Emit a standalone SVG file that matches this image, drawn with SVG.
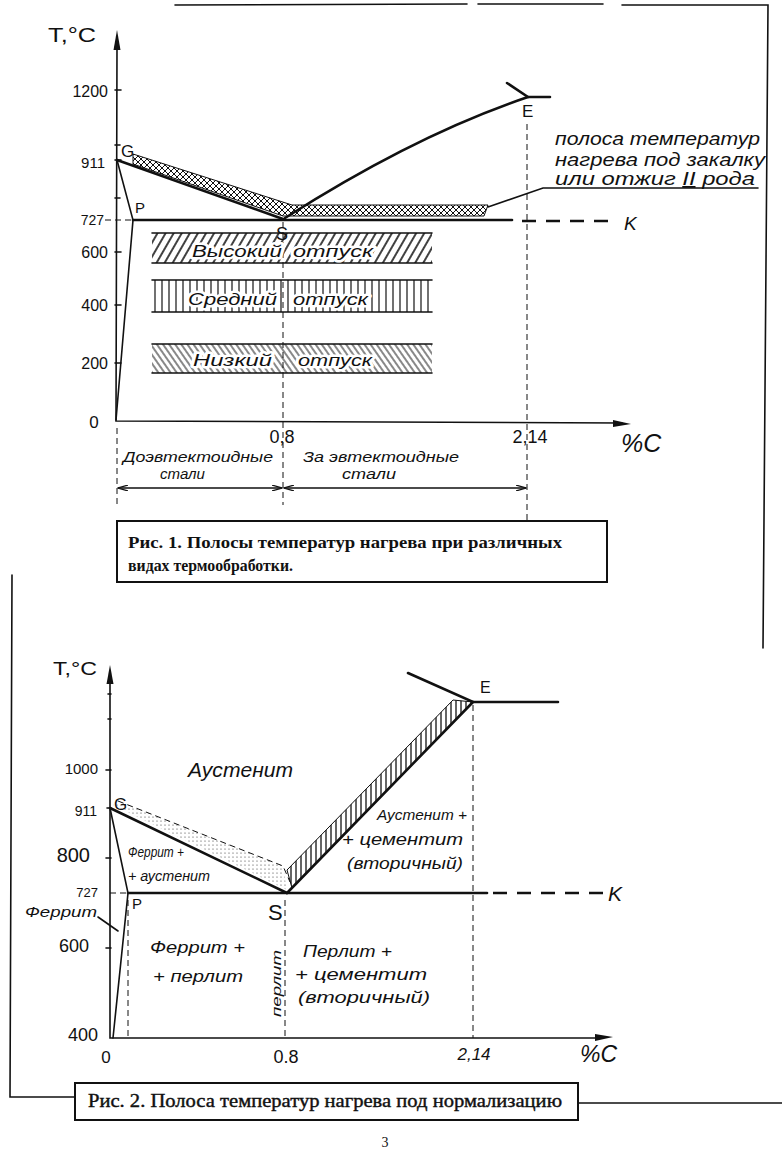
<svg xmlns="http://www.w3.org/2000/svg" width="782" height="1155" viewBox="0 0 782 1155">
<style>
.ln{stroke:#111;fill:none;stroke-width:1.6;stroke-linecap:round}
.th{stroke:#111;fill:none;stroke-width:2.6;stroke-linecap:round}
.ds{stroke:#111;fill:none;stroke-width:1;stroke-dasharray:6,4}
.dk{stroke:#111;fill:none;stroke-width:2.6;stroke-dasharray:14,10}
.hw{font-family:"Liberation Sans","DejaVu Sans",sans-serif;font-style:italic;fill:#111}
.nm{font-family:"Liberation Sans","DejaVu Sans",sans-serif;fill:#111}
.halo{paint-order:stroke;stroke:#fff;stroke-width:5;stroke-linejoin:round}
.cap{font-family:"Liberation Serif","Times New Roman",serif;fill:#111}
</style>
<defs>
<pattern id="xh" width="6" height="6" patternUnits="userSpaceOnUse"><path d="M0,0L6,6M6,0L0,6" stroke="#111" stroke-width="1"/></pattern>
<pattern id="fwd" width="7" height="10" patternUnits="userSpaceOnUse" patternTransform="rotate(30)"><line x1="1" y1="0" x2="1" y2="10" stroke="#111" stroke-width="1.6"/></pattern>
<pattern id="vert" width="7" height="10" patternUnits="userSpaceOnUse"><line x1="1" y1="0" x2="1" y2="10" stroke="#111" stroke-width="1.2"/></pattern>
<pattern id="back" width="5" height="10" patternUnits="userSpaceOnUse" patternTransform="rotate(-35)"><line x1="1" y1="0" x2="1" y2="10" stroke="#111" stroke-width="1"/></pattern>
<pattern id="dots" width="4" height="4" patternUnits="userSpaceOnUse"><circle cx="1" cy="1" r="0.6" fill="#333"/></pattern>
<pattern id="vstrk" width="5" height="10" patternUnits="userSpaceOnUse"><line x1="1" y1="0" x2="1" y2="10" stroke="#111" stroke-width="1.3"/></pattern>
<marker id="da" viewBox="0 0 10 6" refX="10" refY="3" markerWidth="10" markerHeight="6" markerUnits="userSpaceOnUse" orient="auto-start-reverse"><path d="M0,0L10,3L0,6" fill="none" stroke="#111" stroke-width="1.2"/></marker>
</defs>
<rect width="782" height="1155" fill="#fff"/>

<!-- frame lines -->
<g id="frame" class="ln">
<path d="M175,5L467,4M478,4L603,4M622,5L768,5L763,648"/>
<path d="M12,575L10,1097L75,1097M578,1103L782,1103"/>
</g>

<!-- ===== Figure 1 ===== -->
<g id="fig1">
<g id="fig1-bands">
<polygon points="133,154 292,205 488,205 484,216 290,216 283,216 133,164" fill="url(#xh)" stroke="#111" stroke-width="1"/>
<rect x="152" y="233" width="280" height="30" fill="url(#fwd)"/>
<path class="ln" d="M152,233H432M152,263H432"/>
<rect x="152" y="280" width="280" height="32" fill="url(#vert)"/>
<path class="ln" d="M152,280H432M152,312H432"/>
<rect x="152" y="344" width="280" height="29" fill="url(#back)"/>
<path class="ln" d="M152,344H432M152,373H432"/>
</g>
<g id="fig1-axes">
<path class="ln" d="M117,46L116,421L622,423"/>
<polygon points="117,30 113.5,50 120.5,50" fill="#111"/>
<polygon points="631,424 613,420 613,427" fill="#111"/>
<path class="ln" d="M115,90H121M115,145H120M115,160H121M115,198H120M115,252H121M115,305H121M115,363H121"/>
<text class="nm" x="48" y="42" font-size="21" textLength="48" lengthAdjust="spacingAndGlyphs">T,°C</text>
<text class="nm" x="108" y="97" font-size="16" text-anchor="end">1200</text>
<text class="nm" x="105" y="168" font-size="15" text-anchor="end">911</text>
<text class="nm" x="104" y="225" font-size="14" text-anchor="end">727</text>
<text class="nm" x="108" y="258" font-size="16" text-anchor="end">600</text>
<text class="nm" x="108" y="311" font-size="16" text-anchor="end">400</text>
<text class="nm" x="108" y="369" font-size="16" text-anchor="end">200</text>
<text class="nm" x="94" y="428" font-size="17" text-anchor="middle">0</text>
<text class="nm" x="282" y="443" font-size="18" text-anchor="middle">0,8</text>
<text class="nm" x="530" y="443" font-size="18" text-anchor="middle">2,14</text>
<text class="hw" x="621" y="452" font-size="25">%C</text>
</g>
<g id="fig1-lines">
<path class="ds" d="M105,220H133"/>
<path class="th" d="M117,160L283,219"/>
<path class="ln" d="M117,160L133,220L116,420"/>
<path class="th" d="M133,220H512"/>
<path class="dk" d="M522,221H612"/>
<path class="th" d="M285,218Q415,135 528,97"/>
<path class="th" d="M507,83L528,97H550"/>
<path class="ds" d="M527,124V520"/>
<path class="ds" d="M283,222V505" stroke-dasharray="12,4,2,4"/>
<path class="ln" d="M488,207L543,188H758"/>
<path class="ds" d="M117,428V505"/>
<path class="ln" d="M118,488H282" marker-start="url(#da)" marker-end="url(#da)"/>
<path class="ln" d="M284,488H526" marker-start="url(#da)" marker-end="url(#da)"/>
</g>
<g id="fig1-labels">
<text class="nm" x="121" y="157" font-size="17">G</text>
<text class="nm" x="135" y="213" font-size="15">P</text>
<text class="nm" x="276" y="240" font-size="18">S</text>
<text class="nm" x="522" y="117" font-size="17">E</text>
<text class="hw" x="624" y="230" font-size="19">K</text>
<text class="hw" x="555" y="145" font-size="18" textLength="205" lengthAdjust="spacingAndGlyphs">полоса температур</text>
<text class="hw" x="555" y="166" font-size="18" textLength="210" lengthAdjust="spacingAndGlyphs">нагрева под закалку</text>
<text class="hw" x="555" y="185" font-size="18" textLength="200" lengthAdjust="spacingAndGlyphs">или отжиг <tspan text-decoration="underline">II</tspan> рода</text>
<text class="hw halo" x="192" y="257" font-size="17" textLength="90" lengthAdjust="spacingAndGlyphs">Высокий</text>
<text class="hw halo" x="293" y="257" font-size="17" textLength="80" lengthAdjust="spacingAndGlyphs">отпуск</text>
<text class="hw halo" x="188" y="305" font-size="17" textLength="89" lengthAdjust="spacingAndGlyphs">Средний</text>
<text class="hw halo" x="293" y="305" font-size="17" textLength="75" lengthAdjust="spacingAndGlyphs">отпуск</text>
<text class="hw halo" x="193" y="366" font-size="17" textLength="79" lengthAdjust="spacingAndGlyphs">Низкий</text>
<text class="hw halo" x="298" y="366" font-size="17" textLength="74" lengthAdjust="spacingAndGlyphs">отпуск</text>
<text class="hw" x="123" y="462" font-size="15" textLength="150" lengthAdjust="spacingAndGlyphs">Доэвтектоидные</text>
<text class="hw" x="160" y="479" font-size="15" textLength="45" lengthAdjust="spacingAndGlyphs">стали</text>
<text class="hw" x="303" y="462" font-size="15" textLength="156" lengthAdjust="spacingAndGlyphs">За эвтектоидные</text>
<text class="hw" x="342" y="479" font-size="15" textLength="54" lengthAdjust="spacingAndGlyphs">стали</text>
</g>
<g id="caption1">
<rect x="117" y="521" width="490" height="61" fill="#fff" stroke="#111" stroke-width="2"/>
<text class="cap" x="128" y="548" font-size="17" font-weight="bold" textLength="434" lengthAdjust="spacingAndGlyphs">Рис. 1. Полосы температур нагрева при различных</text>
<text class="cap" x="128" y="571" font-size="17" font-weight="bold" textLength="165" lengthAdjust="spacingAndGlyphs">видах термообработки.</text>
</g>
</g>

<!-- ===== Figure 2 ===== -->
<g id="fig2">
<g id="fig2-bands">
<polygon points="113,805 118,801 283,866 287,890" fill="url(#dots)"/>
<path class="ds" d="M118,801L283,866L290,882" stroke-dasharray="5,3"/>
<polygon points="287,870 453,700 473,702 292,888" fill="url(#vstrk)" stroke="#111" stroke-width="1"/>
</g>
<g id="fig2-axes">
<path class="ln" d="M110,678V1038H602"/>
<polygon points="110,665 106.5,684 113.5,684" fill="#111"/>
<polygon points="613,1037 595,1034 595,1041" fill="#111"/>
<path class="ln" d="M106,770H111M107,808H111M106,858H111M106,948H111M108,694H111M108,719H111"/>
<text class="nm" x="53" y="675" font-size="18" textLength="44" lengthAdjust="spacingAndGlyphs">T,°C</text>
<text class="nm" x="98" y="774" font-size="15" text-anchor="end">1000</text>
<text class="nm" x="97" y="816" font-size="14" text-anchor="end">911</text>
<text class="nm" x="90" y="862" font-size="20" text-anchor="end">800</text>
<text class="nm" x="98" y="897" font-size="13" text-anchor="end">727</text>
<text class="nm" x="89" y="952" font-size="18" text-anchor="end">600</text>
<text class="nm" x="98" y="1041" font-size="18" text-anchor="end">400</text>
<text class="nm" x="106" y="1063" font-size="17" text-anchor="middle">0</text>
<text class="nm" x="286" y="1063" font-size="18" text-anchor="middle">0.8</text>
<text class="hw" x="474" y="1060" font-size="17" text-anchor="middle">2,14</text>
<text class="hw" x="580" y="1062" font-size="23">%C</text>
</g>
<g id="fig2-lines">
<path class="ds" d="M110,893H128"/>
<path class="th" d="M110,808L287,893"/>
<path class="ln" d="M110,808L128,893L113,1038"/>
<path class="th" d="M128,893H487"/>
<path class="dk" d="M493,893H603"/>
<path class="th" d="M287,893L473,702"/>
<path class="th" d="M408,673L473,702H558"/>
<path class="ds" d="M473,705V1038"/>
<path class="ds" d="M285,900V1038" stroke-dasharray="3,3"/>
<path class="ds" d="M128,900V1038"/>
<path class="ln" d="M98,917L118,931" stroke-width="1"/>
</g>
<g id="fig2-labels">
<text class="nm" x="114" y="810" font-size="17">G</text>
<text class="nm" x="132" y="909" font-size="15">P</text>
<text class="nm" x="268" y="920" font-size="22">S</text>
<text class="nm" x="480" y="693" font-size="16">E</text>
<text class="hw" x="608" y="901" font-size="21">K</text>
<text class="hw" x="188" y="777" font-size="20" textLength="105" lengthAdjust="spacingAndGlyphs">Аустенит</text>
<text class="hw" x="128" y="857" font-size="14" textLength="56" lengthAdjust="spacingAndGlyphs">Феррит +</text>
<text class="hw" x="128" y="881" font-size="14" textLength="82" lengthAdjust="spacingAndGlyphs">+ аустенит</text>
<text class="hw" x="377" y="820" font-size="15" textLength="90" lengthAdjust="spacingAndGlyphs">Аустенит +</text>
<text class="hw" x="342" y="845" font-size="16" textLength="121" lengthAdjust="spacingAndGlyphs">+ цементит</text>
<text class="hw" x="347" y="869" font-size="16" textLength="116" lengthAdjust="spacingAndGlyphs">(вторичный)</text>
<text class="hw" x="25" y="917" font-size="15" textLength="72" lengthAdjust="spacingAndGlyphs">Феррит</text>
<text class="hw" x="150" y="953" font-size="17" textLength="95" lengthAdjust="spacingAndGlyphs">Феррит +</text>
<text class="hw" x="153" y="982" font-size="17" textLength="90" lengthAdjust="spacingAndGlyphs">+ перлит</text>
<text class="hw" x="303" y="957" font-size="17" textLength="89" lengthAdjust="spacingAndGlyphs">Перлит +</text>
<text class="hw" x="295" y="980" font-size="17" textLength="132" lengthAdjust="spacingAndGlyphs">+ цементит</text>
<text class="hw" x="298" y="1003" font-size="17" textLength="132" lengthAdjust="spacingAndGlyphs">(вторичный)</text>
<text class="hw" transform="translate(281,1017) rotate(-90)" font-size="13" textLength="67" lengthAdjust="spacingAndGlyphs">перлит</text>
</g>
<g id="caption2">
<rect x="75" y="1083" width="503" height="37" fill="#fff" stroke="#111" stroke-width="2"/>
<text class="cap" x="88" y="1107" font-size="18" stroke="#111" stroke-width="0.4" textLength="474" lengthAdjust="spacingAndGlyphs">Рис. 2. Полоса температур нагрева под нормализацию</text>
</g>
</g>
<text class="cap" x="385" y="1147" font-size="14" text-anchor="middle">3</text>
</svg>
